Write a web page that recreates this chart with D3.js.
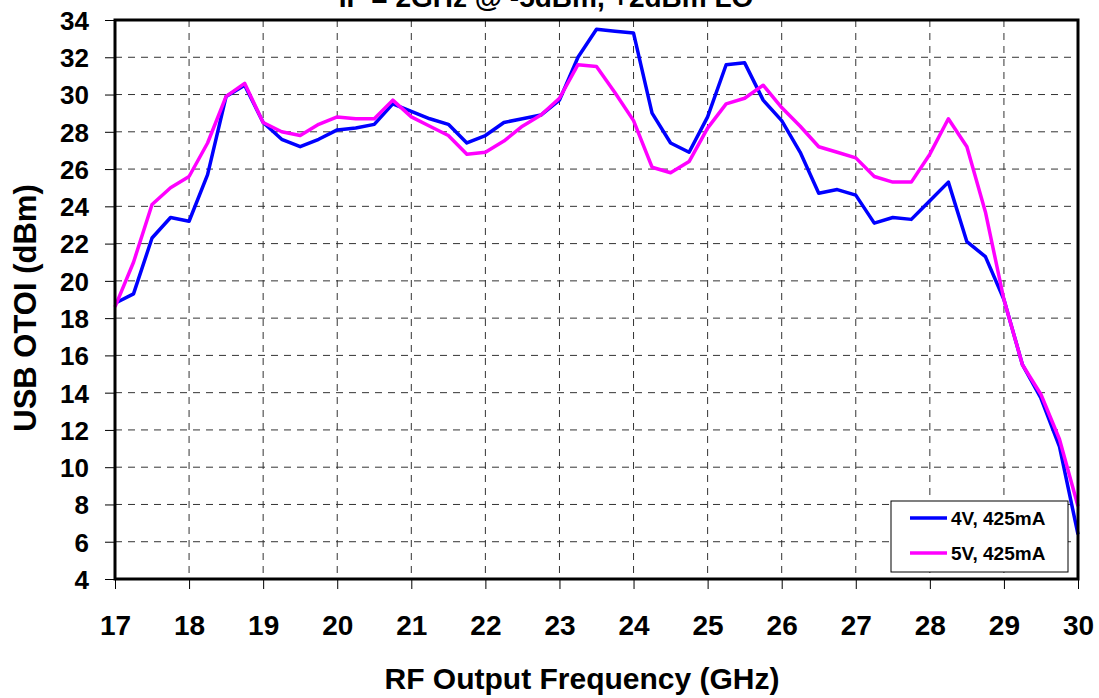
<html>
<head>
<script src="https://d3js.org/d3.v7.min.js"></script>
<style>
  body { margin: 0; background: #fff; }
  text { font-family: "Liberation Sans", Arial, sans-serif; font-weight: bold; }
</style>
</head>
<body>
<svg id="chart" width="1099" height="698"></svg>
<script>
// frequency points, 0.25 GHz steps from 17 to 30
var freqs = [17, 17.25, 17.5, 17.75, 18, 18.25, 18.5, 18.75, 19, 19.25, 19.5, 19.75,
  20, 20.25, 20.5, 20.75, 21, 21.25, 21.5, 21.75, 22, 22.25, 22.5, 22.75,
  23, 23.25, 23.5, 23.75, 24, 24.25, 24.5, 24.75, 25, 25.25, 25.5, 25.75,
  26, 26.25, 26.5, 26.75, 27, 27.25, 27.5, 27.75, 28, 28.25, 28.5, 28.75,
  29, 29.25, 29.5, 29.75, 30]

var otoi4V = [18.8, 19.3, 22.3, 23.4, 23.2, 25.7, 29.9, 30.5, 28.5, 27.6, 27.2, 27.6,
  28.1, 28.2, 28.4, 29.5, 29.1, 28.7, 28.4, 27.4, 27.8, 28.5, 28.7, 28.9,
  29.7, 32.0, 33.5, 33.4, 33.3, 29.0, 27.4, 26.9, 28.8, 31.6, 31.7, 29.7,
  28.6, 26.9, 24.7, 24.9, 24.6, 23.1, 23.4, 23.3, 24.3, 25.3, 22.1, 21.3,
  19.0, 15.5, 13.7, 11.1, 6.4]

var otoi5V = [18.6, 21.0, 24.1, 25.0, 25.6, 27.4, 29.9, 30.6, 28.5, 28.0, 27.8, 28.4,
  28.8, 28.7, 28.7, 29.7, 28.8, 28.3, 27.8, 26.8, 26.9, 27.5, 28.3, 28.9,
  29.8, 31.6, 31.5, 30.1, 28.6, 26.1, 25.8, 26.4, 28.2, 29.5, 29.8, 30.5,
  29.3, 28.3, 27.2, 26.9, 26.6, 25.6, 25.3, 25.3, 26.8, 28.7, 27.2, 23.7,
  19.0, 15.5, 13.9, 11.5, 7.9]

var seriesNames = ["4V, 425mA", "5V, 425mA"]
var seriesColors = ["#0000ff", "#ff00ff"]
var xTicks = d3.range(17, 31, 1)
var yTicks = d3.range(4, 35, 2)

var svg = d3.select("#chart")
var m = {left: 115, right: 1078, top: 20, bottom: 579}

var x = d3.scaleLinear().domain([17, 30]).range([m.left, m.right])
var y = d3.scaleLinear().domain([4, 34]).range([m.bottom, m.top])

// grid
var grid = svg.append("g")
grid.selectAll(".vg").data(xTicks.slice(1, -1)).join("line")
  .attr("x1", d => x(d)).attr("x2", d => x(d))
  .attr("y1", m.top).attr("y2", m.bottom)
  .attr("stroke", "#333").attr("stroke-dasharray", "7,6")
grid.selectAll(".hg").data(yTicks.slice(1, -1)).join("line")
  .attr("x1", m.left).attr("x2", m.right)
  .attr("y1", d => y(d)).attr("y2", d => y(d))
  .attr("stroke", "#333").attr("stroke-dasharray", "7,6")

// axes
var xAxis = svg.append("g")
  .attr("transform", `translate(0,${m.bottom})`)
  .call(d3.axisBottom(x).tickValues(xTicks).tickSize(10).tickPadding(26).tickFormat(d3.format("d")))
var yAxis = svg.append("g")
  .attr("transform", `translate(${m.left},0)`)
  .call(d3.axisLeft(y).tickValues(yTicks).tickSize(10).tickPadding(16).tickFormat(d3.format("d")))
;[xAxis, yAxis].forEach(a => {
  a.select(".domain").remove()
  a.selectAll(".tick line").attr("stroke", "#000")
  a.selectAll("text").attr("fill", "#000")
    .attr("font-family", "Liberation Sans, Arial, sans-serif").attr("font-weight", "bold")
})
xAxis.selectAll("text").attr("font-size", "28px")
yAxis.selectAll("text").attr("font-size", "26px").attr("dy", "0.36em")

// lines
var line = d3.line().x((d, i) => x(freqs[i])).y(d => y(d))
;[otoi4V, otoi5V].forEach((s, k) => {
  svg.append("path").datum(s)
    .attr("d", line)
    .attr("fill", "none")
    .attr("stroke", seriesColors[k])
    .attr("stroke-width", 3.5)
    .attr("stroke-linejoin", "round")
})

// frame
svg.append("rect")
  .attr("x", m.left).attr("y", m.top)
  .attr("width", m.right - m.left).attr("height", m.bottom - m.top)
  .attr("fill", "none").attr("stroke", "#000").attr("stroke-width", 3)

// legend
var lg = svg.append("g")
lg.append("rect").attr("x", 891).attr("y", 501).attr("width", 177).attr("height", 71)
  .attr("fill", "#fff").attr("stroke", "#000").attr("stroke-width", 1)
seriesNames.forEach((n, k) => {
  var yy = 518 + k * 35
  lg.append("line").attr("x1", 910).attr("x2", 947).attr("y1", yy).attr("y2", yy)
    .attr("stroke", seriesColors[k]).attr("stroke-width", 3.5)
  lg.append("text").attr("x", 951).attr("y", yy + 7).attr("font-size", "19px").text(n)
})

// titles (the chart title is clipped at the top edge, as in the original)
svg.append("text").attr("x", 546).attr("y", 7).attr("text-anchor", "middle")
  .attr("font-size", "28px").text("IF = 2GHz @ -5dBm, +2dBm LO")
svg.append("text").attr("x", 582).attr("y", 689).attr("text-anchor", "middle")
  .attr("font-size", "30px").text("RF Output Frequency (GHz)")
svg.append("text").attr("transform", "translate(36,308) rotate(-90)")
  .attr("text-anchor", "middle").attr("font-size", "31px").text("USB OTOI (dBm)")
</script>
</body>
</html>
